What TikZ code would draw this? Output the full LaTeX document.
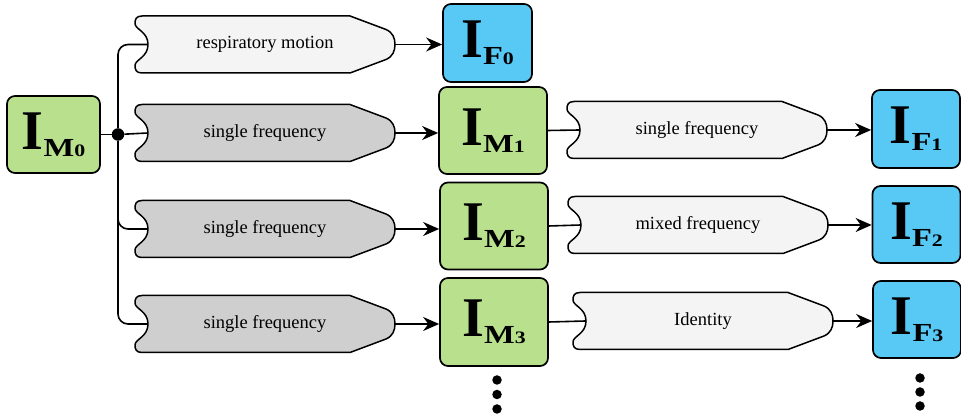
\documentclass[tikz,border=0pt]{standalone}
\usepackage{fontspec}
\setmainfont{Liberation Serif}
\usepackage{graphicx}
\usetikzlibrary{arrows.meta,calc}
\definecolor{boxgreen}{RGB}{185,224,141}
\definecolor{boxblue}{RGB}{88,200,245}
\definecolor{bgray}{RGB}{207,207,207}
\definecolor{bwhite}{RGB}{244,244,244}
\newcommand\imlabel[2]{{\fontsize{56}{56}\selectfont\bfseries I}\raisebox{-7pt}{\scalebox{1.25}[1]{\fontsize{26}{26}\selectfont\bfseries #1\fontsize{17.5}{17.5}\selectfont #2}}}
\newcommand\mybanner[5]{%
  \draw[bannerline, fill=#4, shift={(#2,#3)}]
    (-123,28.5) -- (85,28.5) -- (121,15) .. controls (128,12) and (130,6) .. (130,0)
    .. controls (130,-6) and (128,-12) .. (121,-15) -- (85,-28.5) -- (-123,-28.5)
    .. controls (-129,-28.5) and (-130,-25) .. (-130,-21)
    .. controls (-130,-15) and (-117,-13) .. (-117,0)
    .. controls (-117,13) and (-130,15) .. (-130,21)
    .. controls (-130,25) and (-129,28.5) .. (-123,28.5) -- cycle;
  \node[bannertext] (#1) at (#2,#3) {#5};
  \coordinate (#1-in) at ($(#1.west)+(13,0)$);
}
\tikzset{
  bannerline/.style={line width=1.5pt, line join=round},
  bannertext/.style={minimum width=260pt, minimum height=57pt, inner sep=0pt, font=\fontsize{18.5}{20}\selectfont},
  imbox/.style={draw, line width=1.7pt, rounded corners=8pt, inner sep=0pt, fill=boxgreen},
  ifbox/.style={draw, line width=1.7pt, rounded corners=8pt, inner sep=0pt, fill=boxblue, minimum width=88pt, minimum height=78pt},
  conn/.style={line width=1.6pt},
  arr/.style={line width=1.6pt, -{Stealth[length=16pt,width=14pt]}},
  vdot/.style={circle, fill=black, inner sep=0pt, minimum size=9.5pt},
}
\begin{document}
\begin{tikzpicture}[x=1pt,y=1pt]
\useasboundingbox (0,0) rectangle (961,419);
% banners
\mybanner{b0}{265}{374.5}{bwhite}{respiratory motion}
\mybanner{g1}{265}{286}{bgray}{single frequency}
\mybanner{g2}{265}{190}{bgray}{single frequency}
\mybanner{g3}{265}{95}{bgray}{single frequency}
\mybanner{w1}{697}{289}{bwhite}{single frequency}
\mybanner{w2}{698}{194}{bwhite}{mixed frequency}
\mybanner{w3}{703}{98}{bwhite}{Identity}
% boxes
\node[imbox, minimum width=93pt, minimum height=77pt] (IM0) at (53.5,284.5) {\imlabel{M}{0}};
\node[imbox, minimum width=108pt, minimum height=87pt] (IM1) at (493,288.5) {\imlabel{M}{1}};
\node[imbox, minimum width=108pt, minimum height=87pt] (IM2) at (494,193) {\imlabel{M}{2}};
\node[imbox, minimum width=108pt, minimum height=88pt] (IM3) at (494,97) {\imlabel{M}{3}};
\node[ifbox, minimum width=89pt] (IF0) at (487.5,376) {\imlabel{F}{0}};
\node[ifbox] (IF1) at (916,290) {\imlabel{F}{1}};
\node[ifbox, minimum height=77pt] (IF2) at (916.5,194.5) {\imlabel{F}{2}};
\node[ifbox, minimum height=77pt] (IF3) at (917,99.5) {\imlabel{F}{3}};
% junction
\node[circle, fill=black, inner sep=0pt, minimum size=12.5pt] (J) at (118,284.5) {};
\draw[conn] (IM0.east) -- (J);
\draw[conn, rounded corners=10pt] (J) |- (b0-in);
\draw[conn] (J) -- (g1-in);
\draw[conn, rounded corners=10pt] (J) |- (g2-in);
\draw[conn, rounded corners=10pt] (J) |- (g3-in);
% arrows to boxes
\draw[arr] (b0.east) -- (b0.east -| IF0.west);
\draw[arr] (g1.east) -- (g1.east -| IM1.west);
\draw[arr] (g2.east) -- (g2.east -| IM2.west);
\draw[arr] (g3.east) -- (g3.east -| IM3.west);
\draw[conn] (IM1.east) -- (w1-in);
\draw[conn] (IM2.east) -- (w2-in);
\draw[conn] (IM3.east) -- (w3-in);
\draw[arr] (w1.east) -- (w1.east -| IF1.west);
\draw[arr] (w2.east) -- (w2.east -| IF2.west);
\draw[arr] (w3.east) -- (w3.east -| IF3.west);
% dots
\node[vdot] (dm1) at (497,39) {};
\node[vdot] (dm2) at (497,24.5) {};
\node[vdot] (dm3) at (497,10) {};
\node[vdot] (df1) at (920,41) {};
\node[vdot] (df2) at (920,27) {};
\node[vdot] (df3) at (920,13) {};
\end{tikzpicture}
\end{document}
